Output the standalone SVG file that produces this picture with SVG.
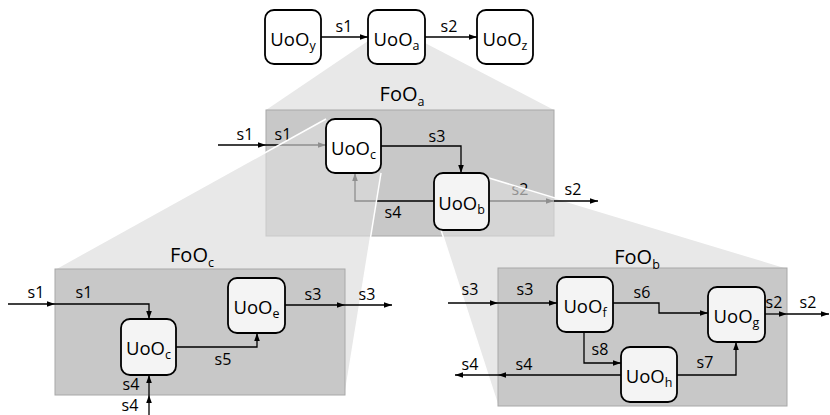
<svg xmlns="http://www.w3.org/2000/svg" width="830" height="415" viewBox="0 0 830 415">
<style>
text{font-family:"Open Sans","Noto Sans","DejaVu Sans",sans-serif;fill:#000}
.lbl{font-size:16px;text-anchor:middle}
.uoo{font-size:18.5px;text-anchor:middle}
.foo{font-size:20px;text-anchor:middle}
.sub{font-size:12.5px}
.node{fill:#f4f4f4;stroke:#000;stroke-width:1.8}
.nodew{fill:#fff;stroke:#000;stroke-width:1.8}
.frame{fill:#c8c8c8;stroke:#a8a8a8;stroke-width:1}
.c{fill:none;stroke:#000;stroke-width:1.3;marker-end:url(#ah)}
.ov{fill:rgb(220,220,220);fill-opacity:0.65;stroke:none}
.edge{stroke:#fff;stroke-width:1.5}
</style>
<defs>
<marker id="ah" viewBox="0 0 10 10" refX="10" refY="5" markerWidth="8" markerHeight="8" markerUnits="userSpaceOnUse" orient="auto"><path d="M0,1.5 L10,5 L0,8.5 z" fill="#000"/></marker>
</defs>
<rect width="830" height="415" fill="#fff"/>
<!-- projection of UoOa -->
<polygon points="368,41 425,43 554,110 266,110" fill="#e8e8e8"/>
<g id="FoOa">
<rect class="frame" x="266" y="110" width="288" height="126"/>
<text class="foo" x="402" y="101">FoO<tspan class="sub" font-size="14" dy="5">a</tspan></text>
</g>
<g id="connectors-FoOa-inner">
<path class="c" d="M266,145 H326"/>
<text class="lbl" x="283" y="140">s1</text>
<path class="c" d="M381,146 H461 V173"/>
<text class="lbl" x="437" y="142">s3</text>
<path class="c" d="M434,201 H355 V173"/>
<text class="lbl" x="393" y="218">s4</text>
<path class="c" d="M489,201 H554"/>
<text class="lbl" x="520" y="195">s2</text>
</g>
<!-- projections of UoOc and UoOb -->
<polygon class="ov" points="326,119 381,173 345,395 345,269 55,269"/>
<polygon class="ov" points="489,178 787,268 498,268 498,406 441,230"/>
<line class="edge" x1="55" y1="269" x2="326" y2="119"/>
<line class="edge" x1="381" y1="173" x2="345" y2="395"/>
<line class="edge" x1="489" y1="178" x2="787" y2="268"/>
<line class="edge" x1="441" y1="230" x2="498" y2="406"/>
<g id="connectors-FoOa-outer">
<path class="c" d="M218,145 H266"/>
<text class="lbl" x="245" y="140">s1</text>
<path class="c" d="M554,201 H598"/>
<text class="lbl" x="573" y="195">s2</text>
</g>
<g id="FoOa-UoOc">
<rect class="nodew" x="326" y="119" width="55" height="54" rx="9"/>
<text class="uoo" x="353.5" y="154.5">UoO<tspan class="sub" dy="4">c</tspan></text>
</g>
<g id="FoOa-UoOb">
<rect class="node" x="434" y="173" width="55" height="57" rx="9"/>
<text class="uoo" x="461.5" y="210">UoO<tspan class="sub" dy="4">b</tspan></text>
</g>
<g id="UoOy">
<rect class="nodew" x="265" y="10" width="56" height="54" rx="9"/>
<text class="uoo" x="293" y="45.5">UoO<tspan class="sub" dy="4">y</tspan></text>
</g>
<g id="UoOa">
<rect class="nodew" x="368" y="10" width="57" height="54" rx="9"/>
<text class="uoo" x="396.5" y="45.5">UoO<tspan class="sub" dy="4">a</tspan></text>
</g>
<g id="UoOz">
<rect class="nodew" x="477" y="10" width="56" height="54" rx="9"/>
<text class="uoo" x="505" y="45.5">UoO<tspan class="sub" dy="4">z</tspan></text>
</g>
<g id="connectors-top">
<path class="c" d="M321,37 H368"/>
<text class="lbl" x="344" y="32">s1</text>
<path class="c" d="M425,37 H477"/>
<text class="lbl" x="449" y="32">s2</text>
</g>
<g id="FoOc">
<rect class="frame" x="55" y="269" width="290" height="126"/>
<text class="foo" x="192" y="262">FoO<tspan class="sub" font-size="14" dy="5">c</tspan></text>
</g>
<g id="FoOb">
<rect class="frame" x="498" y="268" width="289" height="138"/>
<text class="foo" x="637" y="264">FoO<tspan class="sub" font-size="14" dy="5">b</tspan></text>
</g>
<g id="connectors-FoOc">
<path class="c" d="M8,304 H55"/>
<text class="lbl" x="36" y="298">s1</text>
<path class="c" d="M55,304 H149 V319"/>
<text class="lbl" x="84" y="298">s1</text>
<path class="c" d="M176,347 H257 V333"/>
<text class="lbl" x="223" y="365">s5</text>
<path class="c" d="M285,305 H345"/>
<text class="lbl" x="313" y="300">s3</text>
<path class="c" d="M345,305 H392"/>
<text class="lbl" x="367" y="300">s3</text>
<path class="c" d="M149,395 V375"/>
<text class="lbl" x="131" y="390">s4</text>
<path class="c" d="M149,416 V395"/>
<text class="lbl" x="130" y="411">s4</text>
</g>
<g id="connectors-FoOb">
<path class="c" d="M448,303 H498"/>
<text class="lbl" x="470" y="295">s3</text>
<path class="c" d="M498,303 H557"/>
<text class="lbl" x="525" y="295">s3</text>
<path class="c" d="M613,303 H659 V313 H708"/>
<text class="lbl" x="642" y="298">s6</text>
<path class="c" d="M584,332 V363 H621"/>
<text class="lbl" x="600" y="355">s8</text>
<path class="c" d="M621,375 H498"/>
<text class="lbl" x="524" y="370">s4</text>
<path class="c" d="M498,375 H455"/>
<text class="lbl" x="470" y="370">s4</text>
<path class="c" d="M677,375 H736 V342"/>
<text class="lbl" x="705" y="368">s7</text>
<path class="c" d="M765,314 H787"/>
<text class="lbl" x="774" y="308">s2</text>
<path class="c" d="M787,314 H829"/>
<text class="lbl" x="808" y="308">s2</text>
</g>
<g id="FoOc-UoOc">
<rect class="node" x="121" y="319" width="55" height="56" rx="9"/>
<text class="uoo" x="148.5" y="355">UoO<tspan class="sub" dy="4">c</tspan></text>
</g>
<g id="FoOc-UoOe">
<rect class="node" x="228" y="278" width="57" height="55" rx="9"/>
<text class="uoo" x="256.5" y="313.5">UoO<tspan class="sub" dy="4">e</tspan></text>
</g>
<g id="FoOb-UoOf">
<rect class="node" x="557" y="277" width="56" height="55" rx="9"/>
<text class="uoo" x="585" y="312.5">UoO<tspan class="sub" dy="4">f</tspan></text>
</g>
<g id="FoOb-UoOg">
<rect class="node" x="708" y="287" width="57" height="55" rx="9"/>
<text class="uoo" x="736.5" y="322.5">UoO<tspan class="sub" dy="4">g</tspan></text>
</g>
<g id="FoOb-UoOh">
<rect class="node" x="621" y="347" width="56" height="55" rx="9"/>
<text class="uoo" x="649" y="382.5">UoO<tspan class="sub" dy="4">h</tspan></text>
</g>
</svg>
